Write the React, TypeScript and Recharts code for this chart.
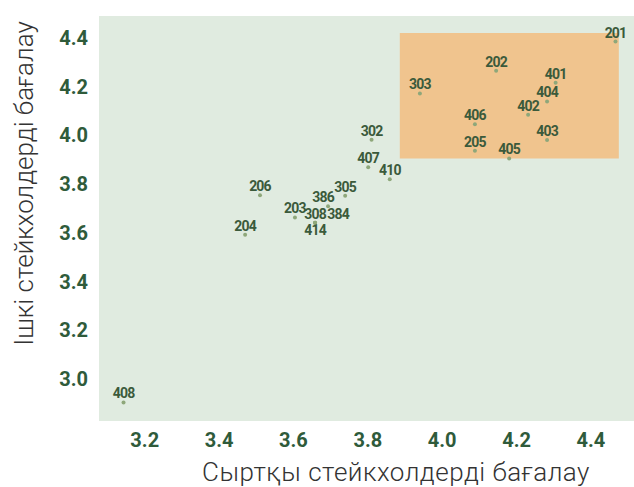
import { CartesianGrid, ReferenceArea, Scatter, ScatterChart, XAxis, YAxis } from "recharts";

const codes = ["201", "202", "303", "401", "404", "402", "406", "403", "205", "405", "302", "407", "410", "206", "305", "386", "203", "308", "384", "414", "204", "408"];
const externalScores = [4.466, 4.145, 3.94, 4.305, 4.282, 4.231, 4.088, 4.282, 4.088, 4.18, 3.81, 3.801, 3.859, 3.51, 3.739, 3.693, 3.604, 3.658, 3.658, 3.658, 3.47, 3.143];
const internalScores = [4.385, 4.265, 4.172, 4.216, 4.139, 4.085, 4.045, 3.981, 3.937, 3.905, 3.982, 3.869, 3.82, 3.754, 3.752, 3.709, 3.663, 3.641, 3.641, 3.641, 3.592, 2.903];

const xTicks = [3.2, 3.4, 3.6, 3.8, 4.0, 4.2, 4.4];
const yTicks = [3.0, 3.2, 3.4, 3.6, 3.8, 4.0, 4.2, 4.4];

// top performers box
const boxX = [3.886, 4.475];
const boxY = [3.905, 4.42];

// labels moved off overlapping points
const nudge: Record<string, [number, number]> = {
  "386": [-5, 0],
  "384": [23, 0],
  "414": [0, 16],
};

const points = codes.map((code, i) => ({
  code,
  x: externalScores[i],
  y: internalScores[i],
}));

const tickStyle = {
  fill: "#2f5b3b",
  fontSize: 20,
  fontWeight: 700,
  fontFamily: "Roboto, sans-serif",
};

const titleStyle = {
  fill: "#333333",
  fontSize: 26,
  fontWeight: 300,
  fontFamily: "Roboto, sans-serif",
};

function Dot(props: any) {
  const { cx, cy, payload } = props;
  const [dx, dy] = nudge[payload.code] ?? [0, 0];
  return (
    <g>
      <circle cx={cx} cy={cy} r={2} fill="#8ea77a" />
      <text
        x={cx + dx}
        y={cy - 4 + dy}
        textAnchor="middle"
        fill="#3b5a3b"
        fontSize={14}
        fontWeight={700}
        letterSpacing={-0.8}
        fontFamily="Roboto, sans-serif"
      >
        {payload.code}
      </text>
    </g>
  );
}

export default function App() {
  return (
    <div style={{ position: "fixed", left: 0, top: 0, width: 634, height: 487, overflow: "hidden", background: "#fff" }}>
      <ScatterChart width={660} height={487} margin={{ top: 16, right: 17, bottom: 0, left: 0 }}>
        <CartesianGrid fill="#e0ebe0" fillOpacity={1} stroke="none" horizontal={false} vertical={false} />
        <XAxis
          type="number"
          dataKey="x"
          domain={[3.077, 4.54]}
          ticks={xTicks}
          allowDataOverflow
          height={66}
          axisLine={false}
          tickLine={false}
          tickMargin={6}
          tick={tickStyle}
          tickFormatter={(v: number) => v.toFixed(1)}
          label={{ value: "Сыртқы стейкхолдерді бағалау", position: "insideBottom", offset: 6, dx: 25, letterSpacing: 0.5, ...titleStyle }}
        />
        <YAxis
          type="number"
          dataKey="y"
          domain={[2.827, 4.49]}
          ticks={yTicks}
          allowDataOverflow
          width={99}
          axisLine={false}
          tickLine={false}
          tickMargin={5}
          tick={tickStyle}
          tickFormatter={(v: number) => v.toFixed(1)}
          label={{ value: "Ішкі стейкхолдерді бағалау", position: "center", angle: -90, dx: -26, dy: -35, ...titleStyle }}
        />
        <ReferenceArea x1={boxX[0]} x2={boxX[1]} y1={boxY[0]} y2={boxY[1]} fill="#f0c48e" fillOpacity={1} stroke="none" />
        <Scatter data={points} shape={Dot} isAnimationActive={false} />
      </ScatterChart>
    </div>
  );
}
